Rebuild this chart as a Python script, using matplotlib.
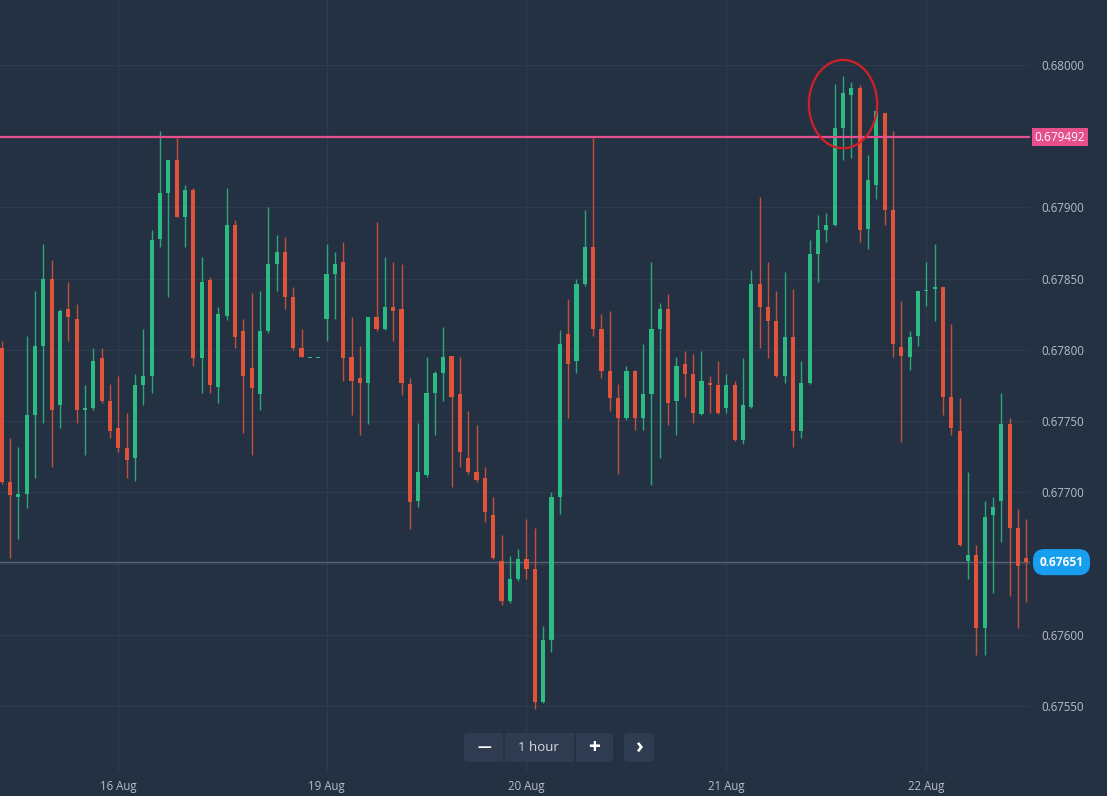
import matplotlib
matplotlib.use("Agg")
import matplotlib.pyplot as plt
from matplotlib.patches import Ellipse, FancyBboxPatch
from matplotlib.transforms import blended_transform_factory
import numpy as np

plt.rcParams['font.family'] = ['Open Sans', 'DejaVu Sans']

# Hourly quotes, one entry per candle
OPEN = [0.67801, 0.67707, 0.67697, 0.67699, 0.67754, 0.67803, 0.67850, 0.67761, 0.67829, 0.67822,
        0.67758, 0.67759, 0.67794, 0.67764, 0.67745, 0.67731, 0.67724, 0.67775, 0.67782, 0.67878,
        0.67910, 0.67933, 0.67893, 0.67912, 0.67794, 0.67849, 0.67774, 0.67824, 0.67888, 0.67813,
        0.67787, 0.67769, 0.67813, 0.67860, 0.67869, 0.67837, 0.67801, 0.67794, 0.67794, 0.67822,
        0.67853, 0.67862, 0.67795, 0.67780, 0.67777, 0.67823, 0.67815, 0.67830, 0.67829, 0.67776,
        0.67694, 0.67712, 0.67770, 0.67784, 0.67796, 0.67769, 0.67724, 0.67714, 0.67710, 0.67684,
        0.67652, 0.67624, 0.67639, 0.67653, 0.67646, 0.67553, 0.67596, 0.67697, 0.67811, 0.67792,
        0.67846, 0.67872, 0.67815, 0.67785, 0.67766, 0.67752, 0.67785, 0.67752, 0.67769, 0.67815,
        0.67829, 0.67764, 0.67790, 0.67783, 0.67755, 0.67777, 0.67775, 0.67759, 0.67775, 0.67737,
        0.67760, 0.67846, 0.67830, 0.67820, 0.67782, 0.67809, 0.67743, 0.67777, 0.67867, 0.67884,
        0.67888, 0.67956, 0.67979, 0.67984, 0.67885, 0.67916, 0.67966, 0.67898, 0.67802, 0.67795,
        0.67810, 0.67841, 0.67843, 0.67844, 0.67767, 0.67743, 0.67652, 0.67656, 0.67605, 0.67684,
        0.67694, 0.67748, 0.67675, 0.67654]
HIGH = [0.67806, 0.67738, 0.67732, 0.67810, 0.67841, 0.67874, 0.67863, 0.67829, 0.67848, 0.67832,
        0.67775, 0.67801, 0.67801, 0.67776, 0.67782, 0.67756, 0.67783, 0.67815, 0.67884, 0.67954,
        0.67933, 0.67949, 0.67916, 0.67914, 0.67865, 0.67851, 0.67830, 0.67914, 0.67891, 0.67822,
        0.67840, 0.67841, 0.67900, 0.67881, 0.67879, 0.67844, 0.67815, 0.67794, 0.67794, 0.67874,
        0.67869, 0.67876, 0.67823, 0.67803, 0.67823, 0.67890, 0.67865, 0.67862, 0.67860, 0.67780,
        0.67749, 0.67795, 0.67785, 0.67816, 0.67796, 0.67795, 0.67757, 0.67747, 0.67718, 0.67697,
        0.67670, 0.67655, 0.67660, 0.67681, 0.67675, 0.67606, 0.67700, 0.67814, 0.67836, 0.67850,
        0.67898, 0.67949, 0.67825, 0.67827, 0.67776, 0.67789, 0.67786, 0.67804, 0.67862, 0.67833,
        0.67839, 0.67795, 0.67799, 0.67797, 0.67799, 0.67782, 0.67792, 0.67783, 0.67778, 0.67794,
        0.67856, 0.67907, 0.67862, 0.67841, 0.67855, 0.67843, 0.67792, 0.67877, 0.67895, 0.67896,
        0.67987, 0.67992, 0.67988, 0.67986, 0.67937, 0.67968, 0.67966, 0.67954, 0.67834, 0.67813,
        0.67841, 0.67862, 0.67874, 0.67844, 0.67818, 0.67766, 0.67714, 0.67663, 0.67694, 0.67697,
        0.67770, 0.67752, 0.67688, 0.67681]
LOW = [0.67706, 0.67654, 0.67667, 0.67689, 0.67710, 0.67749, 0.67718, 0.67745, 0.67806, 0.67749,
       0.67726, 0.67758, 0.67763, 0.67738, 0.67728, 0.67710, 0.67708, 0.67761, 0.67770, 0.67872,
       0.67837, 0.67893, 0.67872, 0.67789, 0.67770, 0.67770, 0.67763, 0.67821, 0.67801, 0.67742,
       0.67726, 0.67758, 0.67812, 0.67841, 0.67829, 0.67800, 0.67795, 0.67794, 0.67794, 0.67806,
       0.67822, 0.67778, 0.67754, 0.67740, 0.67748, 0.67813, 0.67814, 0.67806, 0.67768, 0.67674,
       0.67690, 0.67711, 0.67740, 0.67764, 0.67704, 0.67718, 0.67713, 0.67707, 0.67679, 0.67653,
       0.67621, 0.67622, 0.67638, 0.67639, 0.67548, 0.67552, 0.67588, 0.67685, 0.67752, 0.67784,
       0.67845, 0.67810, 0.67780, 0.67757, 0.67713, 0.67751, 0.67744, 0.67744, 0.67705, 0.67724,
       0.67747, 0.67740, 0.67767, 0.67749, 0.67754, 0.67756, 0.67755, 0.67756, 0.67736, 0.67734,
       0.67759, 0.67801, 0.67794, 0.67781, 0.67777, 0.67732, 0.67738, 0.67776, 0.67848, 0.67876,
       0.67887, 0.67933, 0.67935, 0.67876, 0.67871, 0.67906, 0.67888, 0.67795, 0.67735, 0.67786,
       0.67803, 0.67831, 0.67820, 0.67754, 0.67740, 0.67662, 0.67639, 0.67586, 0.67586, 0.67629,
       0.67665, 0.67627, 0.67605, 0.67623]
CLOSE = [0.67707, 0.67698, 0.67699, 0.67754, 0.67803, 0.67850, 0.67758, 0.67827, 0.67823, 0.67758,
         0.67759, 0.67792, 0.67764, 0.67743, 0.67731, 0.67723, 0.67775, 0.67782, 0.67877, 0.67910,
         0.67933, 0.67893, 0.67912, 0.67794, 0.67848, 0.67775, 0.67825, 0.67888, 0.67809, 0.67782,
         0.67773, 0.67813, 0.67860, 0.67869, 0.67837, 0.67801, 0.67795, 0.67794, 0.67794, 0.67853,
         0.67860, 0.67794, 0.67778, 0.67777, 0.67823, 0.67815, 0.67830, 0.67827, 0.67777, 0.67693,
         0.67714, 0.67770, 0.67784, 0.67795, 0.67767, 0.67728, 0.67714, 0.67709, 0.67686, 0.67654,
         0.67624, 0.67639, 0.67653, 0.67646, 0.67553, 0.67596, 0.67697, 0.67804, 0.67790, 0.67846,
         0.67872, 0.67815, 0.67785, 0.67766, 0.67752, 0.67785, 0.67752, 0.67769, 0.67815, 0.67829,
         0.67763, 0.67789, 0.67783, 0.67756, 0.67778, 0.67775, 0.67756, 0.67775, 0.67737, 0.67761,
         0.67846, 0.67830, 0.67820, 0.67782, 0.67809, 0.67743, 0.67777, 0.67867, 0.67884, 0.67888,
         0.67956, 0.67980, 0.67984, 0.67884, 0.67919, 0.67968, 0.67898, 0.67804, 0.67796, 0.67809,
         0.67841, 0.67842, 0.67844, 0.67767, 0.67745, 0.67663, 0.67656, 0.67605, 0.67683, 0.67690,
         0.67748, 0.67675, 0.67648, 0.67651]

DATE_LABELS = ["16 Aug", "19 Aug", "20 Aug", "21 Aug", "22 Aug"]
DATE_CANDLE = [14, 39, 63, 87, 111]          # candle index where each day starts
PRICE_TICKS = [0.67550, 0.67600, 0.67650, 0.67700, 0.67750, 0.67800, 0.67850, 0.67900, 0.67950, 0.68000]
# 0.67650 and 0.67950 sit under the price tags, so their labels stay empty
PRICE_TICK_LABELS = ["0.67550", "0.67600", "", "0.67700", "0.67750",
                     "0.67800", "0.67850", "0.67900", "", "0.68000"]
RESISTANCE = 0.679492
LAST_PRICE = 0.67651
HIGHLIGHT = [100, 101, 102]                  # candles circled near the top
TIMEFRAME = "1 hour"

BG = '#243142'
GRID = '#2e3b4e'
GREEN = '#2dbb84'
RED = '#e2543a'
PINK = '#e64f8c'
BLUE = '#189eef'
TXT = '#b7bec9'
BTN = '#2e3b50'

W, H = 1107, 796
fig = plt.figure(figsize=(W / 100, H / 100), dpi=100, facecolor=BG)
ax_bottom_px = 772
ax_right_px = 1030
ax = fig.add_axes([0, (H - ax_bottom_px) / H, ax_right_px / W, ax_bottom_px / H])
ax.set_facecolor(BG)
for s in ax.spines.values():
    s.set_visible(False)

o = np.array(OPEN); hi = np.array(HIGH); lo = np.array(LOW); c = np.array(CLOSE)
n = len(o)
x = np.arange(n)
up = c >= o
cols = np.where(up, GREEN, RED)

# price scale: 142444 px per unit, 0.68000 sits 65 px from the top
ppu = 142444.0
ax.set_ylim(0.68 - (ax_bottom_px - 65) / ppu, 0.68 + 65 / ppu)
step = 8.33
ax.set_xlim(-1.7 / step, (ax_right_px - 1.7) / step)

# grid
for p in PRICE_TICKS:
    ax.axhline(p, color=GRID, lw=1.0, zorder=0)
for d in DATE_CANDLE:
    ax.axvline(d, color=GRID, lw=1.0, zorder=0)

# current price line
ax.axhline(LAST_PRICE, color='#56637a', lw=1.0, zorder=1)

# candles
ax.vlines(x, lo, hi, colors=cols, lw=1.0, zorder=2, alpha=0.85)
body_lo = np.minimum(o, c)
body_h = np.maximum(np.abs(c - o), 8e-6)
ax.bar(x, body_h, bottom=body_lo, width=0.5, color=cols, linewidth=0, zorder=3)

# resistance level
ax.axhline(RESISTANCE, color=PINK, lw=1.6, zorder=4)

# circled candles
hx = float(np.mean(HIGHLIGHT))
top = max(hi[i] for i in HIGHLIGHT)
cy = (top + RESISTANCE) / 2 + 0.00002
ax.add_patch(Ellipse((hx, cy), width=8.2, height=0.00062, fill=False,
                     edgecolor='#d41f26', lw=1.6, zorder=6))

# axes ticks
ax.yaxis.tick_right()
ax.set_yticks(PRICE_TICKS)
ax.set_yticklabels(PRICE_TICK_LABELS)
ax.tick_params(axis='y', length=0, pad=8, labelsize=8.3, labelcolor=TXT)
ax.set_xticks(DATE_CANDLE)
ax.set_xticklabels(DATE_LABELS)
ax.tick_params(axis='x', length=0, pad=5.5, labelsize=8.3, labelcolor=TXT)
ax.grid(False)

# value tags on the price axis
tr = blended_transform_factory(ax.transAxes, ax.transData)
ax.text(1060 / ax_right_px, RESISTANCE, f"{RESISTANCE:.6f}", transform=tr, ha='center', va='center',
        color='white', fontsize=8.6, zorder=7, clip_on=False,
        bbox=dict(boxstyle='square,pad=0.22', fc=PINK, ec='none'))
ax.text(1061.5 / ax_right_px, LAST_PRICE, f"{LAST_PRICE:.5f}", transform=tr, ha='center', va='center',
        color='white', fontsize=8.6, fontweight='bold', zorder=7, clip_on=False,
        bbox=dict(boxstyle='round,pad=0.55,rounding_size=0.95', fc=BLUE, ec='none'))

# timeframe controls
def fx(px):
    return px / W

def fy(py):
    return (H - py) / H

def button(x0, x1, y0, y1):
    fig.patches.append(FancyBboxPatch((fx(x0), fy(y1)), fx(x1) - fx(x0), fy(y0) - fy(y1),
                                      boxstyle='round,pad=0,rounding_size=0.004',
                                      transform=fig.transFigure, fc=BTN, ec='none', zorder=10))

button(464, 613, 733, 762)
button(624, 654, 733, 762)
for sx in (503.5, 575):
    fig.lines.append(plt.Line2D([fx(sx), fx(sx)], [fy(733), fy(762)], transform=fig.transFigure,
                                color=BG, lw=1.2, zorder=11))
fig.text(fx(484), fy(747.5), "\u2014", color='white', fontsize=10, fontweight='bold',
         ha='center', va='center', zorder=12)
fig.text(fx(538.5), fy(747.5), TIMEFRAME, color='#d9dde3', fontsize=9.5,
         ha='center', va='center', zorder=12)
fig.text(fx(594.5), fy(747.5), "+", color='white', fontsize=15, fontweight='bold',
         ha='center', va='center', zorder=12)
fig.text(fx(639), fy(747.5), "\u203a", color='white', fontsize=15, fontweight='bold',
         ha='center', va='center', zorder=12)

fig.savefig("out.png", dpi=100, facecolor=BG)
